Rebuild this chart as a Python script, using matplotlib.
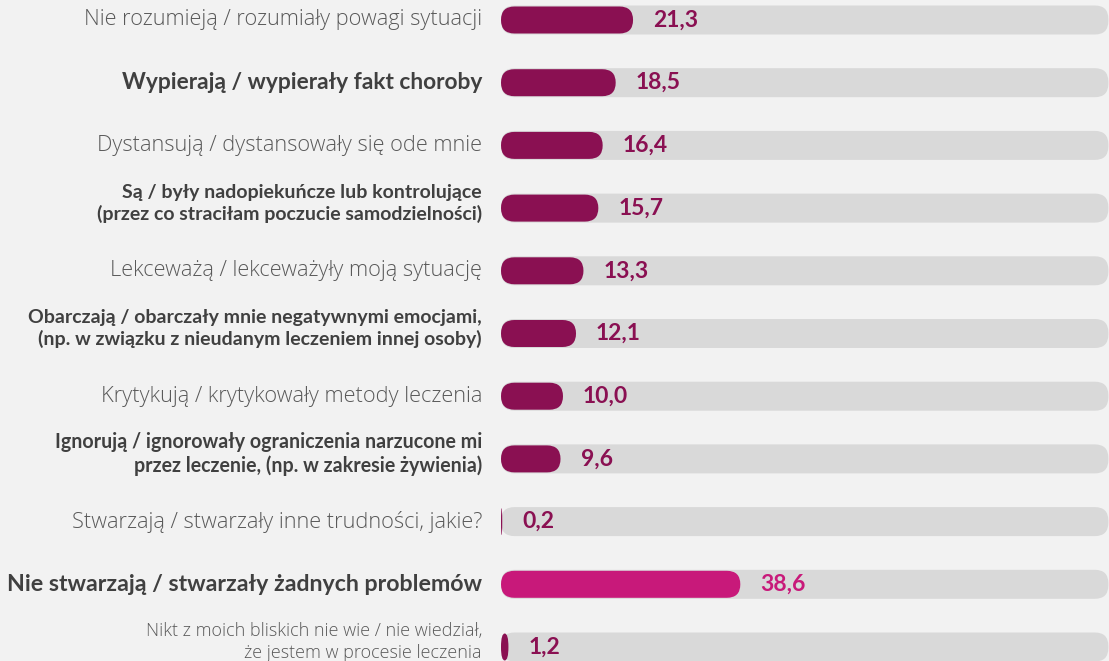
import matplotlib
matplotlib.use("Agg")
import matplotlib.pyplot as plt
from matplotlib.patches import FancyBboxPatch

# dane
labels = [
    "Nie rozumieją / rozumiały powagi sytuacji",
    "Wypierają / wypierały fakt choroby",
    "Dystansują / dystansowały się ode mnie",
    "Są / były nadopiekuńcze lub kontrolujące\n(przez co straciłam poczucie samodzielności)",
    "Lekceważą / lekceważyły moją sytuację",
    "Obarczają / obarczały mnie negatywnymi emocjami,\n(np. w związku z nieudanym leczeniem innej osoby)",
    "Krytykują / krytykowały metody leczenia",
    "Ignorują / ignorowały ograniczenia narzucone mi\nprzez leczenie, (np. w zakresie żywienia)",
    "Stwarzają / stwarzały inne trudności, jakie?",
    "Nie stwarzają / stwarzały żadnych problemów",
    "Nikt z moich bliskich nie wie / nie wiedział,\nże jestem w procesie leczenia",
]
values = [21.3, 18.5, 16.4, 15.7, 13.3, 12.1, 10.0, 9.6, 0.2, 38.6, 1.2]
value_text = ["21,3", "18,5", "16,4", "15,7", "13,3", "12,1", "10,0", "9,6", "0,2", "38,6", "1,2"]

# styl etykiet: (rozmiar, grubość)
label_style = [
    (15.7, "light"), (16.4, "bold"), (15.7, "light"), (14.0, "bold"), (15.7, "light"),
    (14.0, "bold"), (15.7, "light"), (14.1, "bold"), (15.7, "light"), (16.7, "bold"), (13, "light"),
]

PURPLE = "#8a1052"
MAGENTA = "#c8197a"
TRACK = "#d9d9d9"
BG = "#f2f2f2"

W, H = 1109, 661
px_per_unit = 6.2
x0_px = 501
track_max = (W - x0_px) / px_per_unit - 0.1
row0_px, row_step = 20, 62.7

LIGHT_FONT = ['Open Sans', 'DejaVu Sans']
BOLD_FONT = ['Lato', 'DejaVu Sans']
plt.rcParams['font.family'] = BOLD_FONT

fig = plt.figure(figsize=(W / 100, H / 100), dpi=100)
fig.patch.set_facecolor(BG)
ax = fig.add_axes([x0_px / W, 0, (W - x0_px) / W, 1])
ax.set_facecolor(BG)
ax.set_xlim(0, (W - x0_px) / px_per_unit)
ax.set_ylim((H - row0_px) / row_step, -row0_px / row_step)
ax.axis("off")

r_px = 13.5
rx = r_px / px_per_unit
aspect = (1 / row_step) * px_per_unit  # data y per data x for equal pixels
track_h = 29 / row_step
bar_h = 27 / row_step

for i, (v, txt) in enumerate(zip(values, value_text)):
    color = MAGENTA if i == 9 else PURPLE
    # tło (szara ścieżka)
    ax.add_patch(FancyBboxPatch((0, i - track_h / 2), track_max, track_h,
                                boxstyle=f"round,pad=0,rounding_size={rx}",
                                mutation_aspect=aspect, fc=TRACK, ec="none"))
    rr = min(rx, v / 2)
    ax.add_patch(FancyBboxPatch((0, i - bar_h / 2), v, bar_h,
                                boxstyle=f"round,pad=0,rounding_size={rr}",
                                mutation_aspect=aspect * rx / rr if rr < rx else aspect,
                                fc=color, ec="none"))
    ax.text(v + 20 / px_per_unit, i, txt, ha="left", va="center",
            fontsize=16.5, fontweight="bold", color=color)

for i, (lab, (fs, fw)) in enumerate(zip(labels, label_style)):
    if fw == "bold":
        col, fam = "#404040", BOLD_FONT
    else:
        col, fam = "#595959", LIGHT_FONT
    yy = i - (5 / row_step if "\n" in lab else 0)
    ax.text(-19 / px_per_unit, yy, lab, ha="right", va="center", fontsize=fs,
            fontweight=fw, family=fam, color=col, linespacing=1.25, clip_on=False)

fig.savefig("out.png", dpi=100, facecolor=BG)
